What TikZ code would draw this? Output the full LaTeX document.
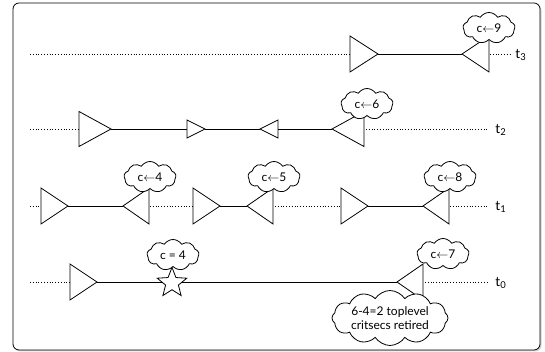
\documentclass[tikz,border=0pt]{standalone}
\usepackage{fontspec}
\setmainfont{Lato}
\usetikzlibrary{shapes}
\usetikzlibrary{shadows}
\usetikzlibrary{positioning}

\tikzset{
    bubble/.style={cloud, cloud puffs=9, cloud puff arc=115, aspect=1.7, draw, fill=white, inner sep=1pt,
        minimum width=52pt, minimum height=31pt, font=\fontsize{12}{14}\selectfont},
    timeline/.style={dotted, line width=0.8pt},
    tlabel/.style={anchor=west, inner sep=0pt, font=\fontsize{13.5}{14}\selectfont},
}

\begin{document}
\begin{tikzpicture}[x=1pt, y=1pt, line width=0.8pt]
    \useasboundingbox (0,0) rectangle (545,352);
    \filldraw[fill=white, rounded corners=6pt, drop shadow={shadow xshift=1.5pt, shadow yshift=-1.5pt, opacity=0.35}] (13,2) rectangle (540,349);

        % time lines
        \draw[timeline] (30,298) -- (350,298);
        \draw[timeline] (490,298) -- (510,298);
        \draw[timeline] (30,223) -- (79,223);
        \draw[timeline] (366,223) -- (487,223);
        \draw[timeline] (30,146) -- (41,146);
        \draw[timeline] (150,146) -- (193,146);
        \draw[timeline] (275,146) -- (341,146);
        \draw[timeline] (450,146) -- (487,146);
        \draw[timeline] (30,70) -- (70,70);
        \draw[timeline] (425,70) -- (487,70);

        \node[tlabel] (t3) at (515,297) {t\textsubscript{3}};
        \node[tlabel] (t2) at (495,222) {t\textsubscript{2}};
        \node[tlabel] (t1) at (495,145) {t\textsubscript{1}};
        \node[tlabel] (t0) at (495,69) {t\textsubscript{0}};

        % t3
        \draw[] (350,316) -- (378,298) coordinate (r3) -- (350,280) -- cycle;
        \draw[] (462,298) coordinate (l3) -- (489,316) -- (489,280) -- cycle;
        \draw[] (r3) -- (l3);

        % t2
        \draw[] (79,240.5) -- (111,223) coordinate (r2a) -- (79,205.5) -- cycle;
        \draw[] (187,232) -- (205,223) coordinate (r2b) -- (187,214) -- cycle;
        \draw[] (260,223) coordinate (l2b) -- (278,232) -- (278,214) -- cycle;
        \draw[] (332,223) coordinate (l2a) -- (364,240.5) -- (364,205.5) -- cycle;
        \coordinate (r2c) at (187,223);
        \coordinate (l2c) at (278,223);
        \draw[] (r2a) -- (r2c);
        \draw[] (r2b) -- (l2b);
        \draw[] (l2c) -- (l2a);

        % t1
        \foreach \p/\q/\v in {41/123/4, 193/247/5, 341/423/8}{
            \draw[] (\p,164) -- (\p+27,146) coordinate (r1\v) -- (\p,128) -- cycle;
            \draw[] (\q,146) coordinate (l1\v) -- (\q+26,164) -- (\q+26,128) -- cycle;
            \draw[] (r1\v) -- (l1\v);
            \node[bubble] (k\v) at (\q+27,175) {c$\leftarrow$\v};
        }

        % t0
        \draw[] (70,88) -- (97,70) coordinate (r0) -- (70,52) -- cycle;
        \draw[] (397,70) coordinate (l0) -- (423,88) -- (423,52) -- cycle;
        \draw[] (r0) -- (l0);
        \node[star, star points=5, star point ratio=2.3, draw, fill=white, minimum size=31pt, inner sep=0pt] (s0) at (172,69) {};

        \node[bubble] (k9) at (489,324) {c$\leftarrow$9};
        \node[bubble] (k6) at (367,248) {c$\leftarrow$6};
        \node[bubble] (k0) at (173,97) {c = 4};
        \node[bubble] (k7) at (443,98) {c$\leftarrow$7};
        \node[bubble, cloud puffs=12, aspect=2.7, inner sep=0pt, minimum width=116pt, minimum height=42pt, align=center] (kr) at (390,34) {6-4=2 toplevel\\critsecs retired};
    \end{tikzpicture}
\end{document}
